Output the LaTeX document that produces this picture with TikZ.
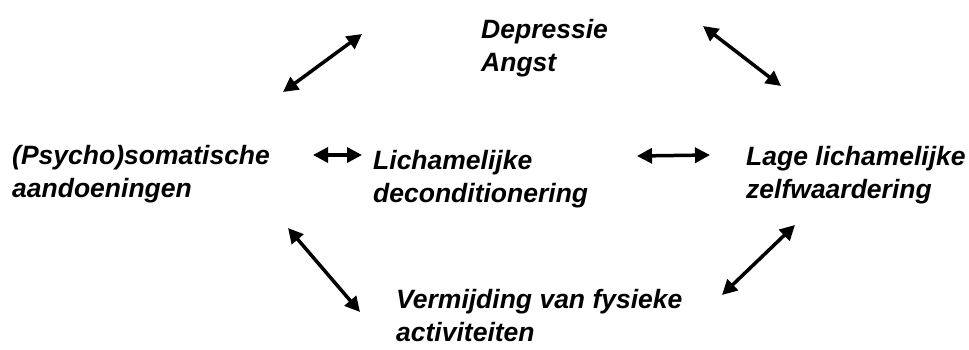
\documentclass[tikz,border=0pt]{standalone}
\usepackage{fontspec}
\setmainfont{Liberation Sans}
\usepackage{tikz}
\usetikzlibrary{arrows.meta}

\begin{document}
\begin{tikzpicture}[x=1pt,y=-1pt]
	\useasboundingbox (0,0) rectangle (969,349);
		\begin{scope}[every node/.style={anchor=north west,inner sep=0pt,align=left,
              font=\fontsize{26.5}{33}\selectfont\bfseries\itshape}]
    \node (dep) at (481,19.5) {Depressie\\Angst};
    \node (psy) at (12,145) {(Psycho)somatische\\aandoeningen};
    \node (lich) at (373,150) {Lichamelijke\\deconditionering};
    \node (lage) at (746,146) {Lage lichamelijke\\zelfwaardering};
    \node (verm) at (396,289) {Vermijding van fysieke\\activiteiten};
	\end{scope}

    % arrow ends
    \coordinate (psyA) at (283,92);   \coordinate (depA) at (362,34);
    \coordinate (depB) at (703,26);   \coordinate (lageB) at (781,86);
    \coordinate (psyC) at (313,155);  \coordinate (lichC) at (362,155);
    \coordinate (lichD) at (637,156); \coordinate (lageD) at (710,155);
    \coordinate (psyE) at (288,228);  \coordinate (vermE) at (360,312);
    \coordinate (vermF) at (722,295); \coordinate (lageF) at (795,225);

	\begin{scope}[>={Triangle[length=15pt,width=15pt]},
              every edge/.style={draw=black,line width=3.5pt}]
    \path [<->] (psyA) edge (depA);
    \path [<->] (depB) edge (lageB);
    \path [<->] (psyC) edge (lichC);
    \path [<->] (lichD) edge (lageD);
    \path [<->] (psyE) edge (vermE);
    \path [<->] (vermF) edge (lageF);
\end{scope}
\end{tikzpicture}
\end{document}
